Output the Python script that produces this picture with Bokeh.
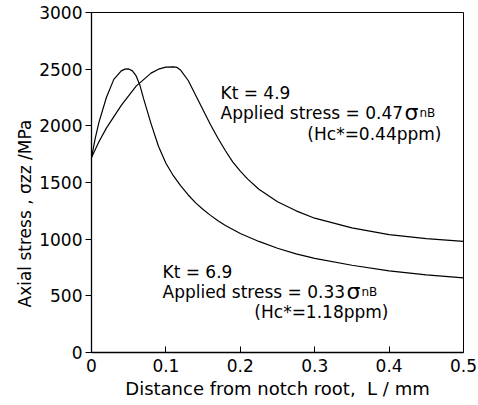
from bokeh.plotting import figure
from bokeh.models import Label, Range1d, FixedTicker, Title
from bokeh.embed import file_html
from bokeh.resources import INLINE

# ---- data ----
# Kt = 6.9, applied stress = 0.33 sigma_nB (sharp peak near the root)
L_kt69 = [0, 0.005, 0.01, 0.02, 0.03, 0.04, 0.045, 0.05, 0.055, 0.06, 0.065, 0.07,
          0.08, 0.09, 0.10, 0.11, 0.12, 0.13, 0.14, 0.15, 0.16, 0.17, 0.18, 0.20,
          0.225, 0.25, 0.275, 0.30, 0.35, 0.40, 0.45, 0.50]
S_kt69 = [1720, 1890, 2030, 2250, 2410, 2485, 2500, 2502, 2485, 2440, 2360, 2240,
          2020, 1820, 1670, 1560, 1470, 1390, 1320, 1262, 1210, 1162, 1120, 1050,
          980, 920, 870, 830, 770, 720, 685, 658]

# Kt = 4.9, applied stress = 0.47 sigma_nB (broad peak)
L_kt49 = [0, 0.01, 0.02, 0.04, 0.06, 0.08, 0.09, 0.10, 0.11, 0.115, 0.12, 0.13,
          0.14, 0.15, 0.16, 0.17, 0.18, 0.19, 0.20, 0.21, 0.225, 0.25, 0.275, 0.30,
          0.35, 0.40, 0.45, 0.50]
S_kt49 = [1720, 1860, 1980, 2180, 2350, 2465, 2500, 2518, 2520, 2515, 2490, 2400,
          2270, 2140, 2010, 1890, 1780, 1680, 1600, 1530, 1440, 1330, 1250, 1185,
          1100, 1040, 1005, 980]

x_ticks = [0, 0.1, 0.2, 0.3, 0.4, 0.5]
x_tick_labels = ["0", "0.1", "0.2", "0.3", "0.4", "0.5"]
y_ticks = [0, 500, 1000, 1500, 2000, 2500, 3000]

FONT = "DejaVu Sans"
BLACK = "#000000"

p = figure(width=478, height=405, output_backend="svg", toolbar_location=None,
           title=None, x_range=Range1d(0, 0.5), y_range=Range1d(0, 3000),
           min_border_left=91, min_border_right=15, min_border_top=12,
           min_border_bottom=53)
p.background_fill_color = "white"
p.border_fill_color = "white"
p.outline_line_color = BLACK
p.outline_line_width = 1
p.xgrid.visible = False
p.ygrid.visible = False

p.line(L_kt69, S_kt69, line_color=BLACK, line_width=1.2)
p.line(L_kt49, S_kt49, line_color=BLACK, line_width=1.2)

xa = p.xaxis[0]
xa.ticker = FixedTicker(ticks=x_ticks)
xa.major_label_overrides = {t: s for t, s in zip(x_ticks, x_tick_labels)}
xa.major_tick_in = 6
xa.major_tick_out = 0
xa.minor_tick_line_color = None
xa.major_label_standoff = 6
xa.axis_label = "Distance from notch root,\u00a0 L / mm"
xa.axis_label_text_font = FONT
xa.axis_label_text_font_size = "18px"
xa.axis_label_text_font_style = "normal"
xa.axis_label_text_color = BLACK
xa.axis_label_standoff = 3

ya = p.yaxis[0]
ya.ticker = FixedTicker(ticks=y_ticks)
ya.major_tick_in = 0
ya.major_tick_out = 6
ya.minor_tick_line_color = None
ya.major_label_standoff = 3
ya.axis_label = None

for ax in (xa, ya):
    ax.axis_line_color = BLACK
    ax.axis_line_width = 1.3
    ax.major_tick_line_color = BLACK
    ax.major_label_text_color = BLACK
    ax.major_label_text_font = FONT
    ax.major_label_text_font_size = "17px"

# y axis title as a side title in the left border, starting near the bottom
p.add_layout(Title(text="Axial stress ,  σzz /MPa", align="left", offset=45,
                   text_font=FONT, text_font_size="17px", text_font_style="normal",
                   text_color=BLACK, standoff=4), "left")


def lab(text, x, y, size, align="left"):
    p.add_layout(Label(x=x, y=y, x_units="screen", y_units="screen", text=text,
                       text_font=FONT, text_font_size=f"{size}px", text_color=BLACK,
                       text_align=align, text_baseline="alphabetic"))


# annotation for Kt = 4.9
lab("Kt = 4.9", 129, 260, 17)
lab("Applied stress = 0.47", 129, 240, 17)
lab("σ", 313, 240, 22)
lab("nB", 328, 240, 12)
lab("(Hc*=0.44ppm)", 350, 219, 17, align="right")

# annotation for Kt = 6.9
lab("Kt = 6.9", 71, 81, 17)
lab("Applied stress = 0.33", 71, 61, 17)
lab("σ", 255, 61, 22)
lab("nB", 270, 61, 12)
lab("(Hc*=1.18ppm)", 297, 41, 17, align="right")

open("out.html", "w").write(file_html(p, INLINE))
